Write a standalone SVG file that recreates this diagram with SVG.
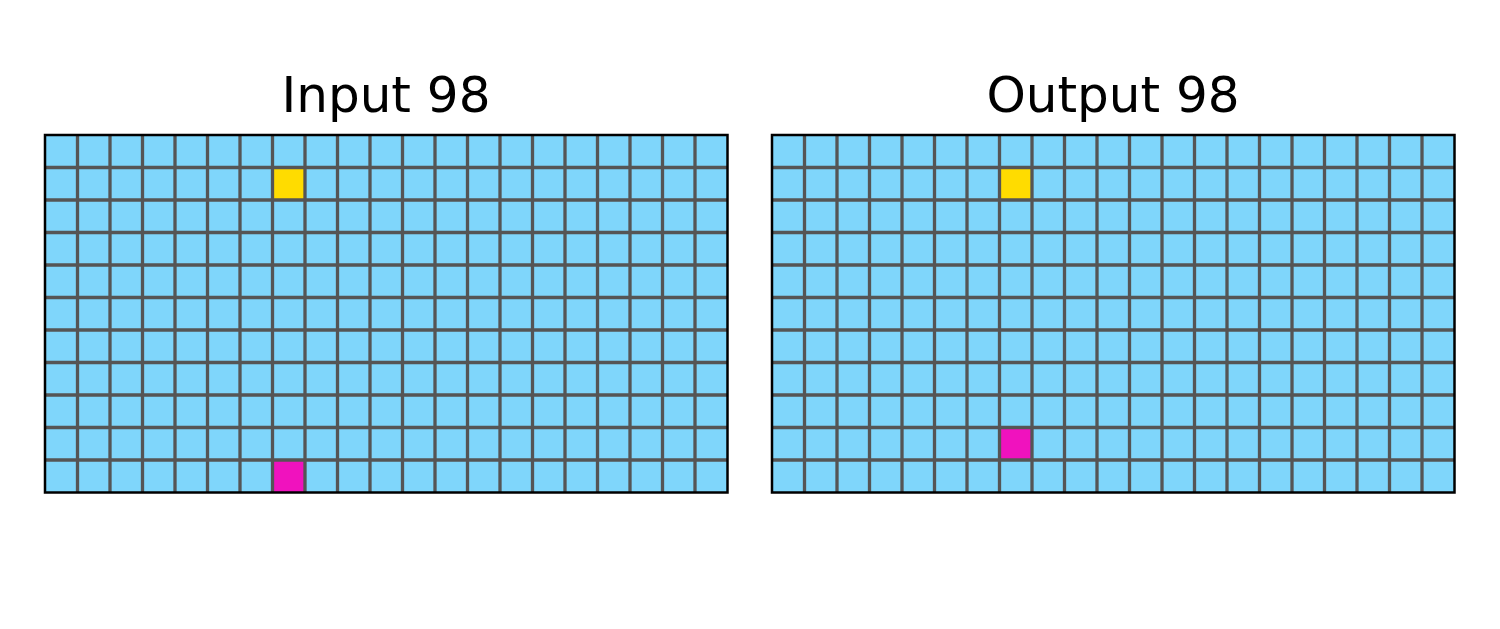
<svg xmlns="http://www.w3.org/2000/svg" xmlns:xlink="http://www.w3.org/1999/xlink" width="1500" height="629" viewBox="0 0 1500 629">
<style>
.bg{fill:#7fd6fb}
.y{fill:#ffdc00}
.m{fill:#f012be}
.grid{fill:none;stroke:#555555;stroke-width:3.3}
.frame{fill:none;stroke:#000000;stroke-width:2.5}
.title{font-family:"DejaVu Sans",sans-serif;font-size:50px;fill:#000000;text-anchor:middle}
</style>
<defs>
<path id="gridlines" class="grid" d="M32.5 0V357.5M65 0V357.5M97.5 0V357.5M130 0V357.5M162.5 0V357.5M195 0V357.5M227.5 0V357.5M260 0V357.5M292.5 0V357.5M325 0V357.5M357.5 0V357.5M390 0V357.5M422.5 0V357.5M455 0V357.5M487.5 0V357.5M520 0V357.5M552.5 0V357.5M585 0V357.5M617.5 0V357.5M650 0V357.5M0 32.5H682.5M0 65H682.5M0 97.5H682.5M0 130H682.5M0 162.5H682.5M0 195H682.5M0 227.5H682.5M0 260H682.5M0 292.5H682.5M0 325H682.5"/>
</defs>
<rect width="1500" height="629" fill="#ffffff"/>
<g id="input-panel">
<text class="title" x="386" y="112">Input 98</text>
<g transform="translate(45,135)">
<rect class="bg" width="682.5" height="357.5"/>
<rect class="y" x="227.5" y="32.5" width="32.5" height="32.5"/>
<rect class="m" x="227.5" y="325" width="32.5" height="32.5"/>
<use xlink:href="#gridlines"/>
<rect class="frame" width="682.5" height="357.5"/>
</g>
</g>
<g id="output-panel">
<text class="title" x="1113" y="112">Output 98</text>
<g transform="translate(772,135)">
<rect class="bg" width="682.5" height="357.5"/>
<rect class="y" x="227.5" y="32.5" width="32.5" height="32.5"/>
<rect class="m" x="227.5" y="292.5" width="32.5" height="32.5"/>
<use xlink:href="#gridlines"/>
<rect class="frame" width="682.5" height="357.5"/>
</g>
</g>
</svg>
